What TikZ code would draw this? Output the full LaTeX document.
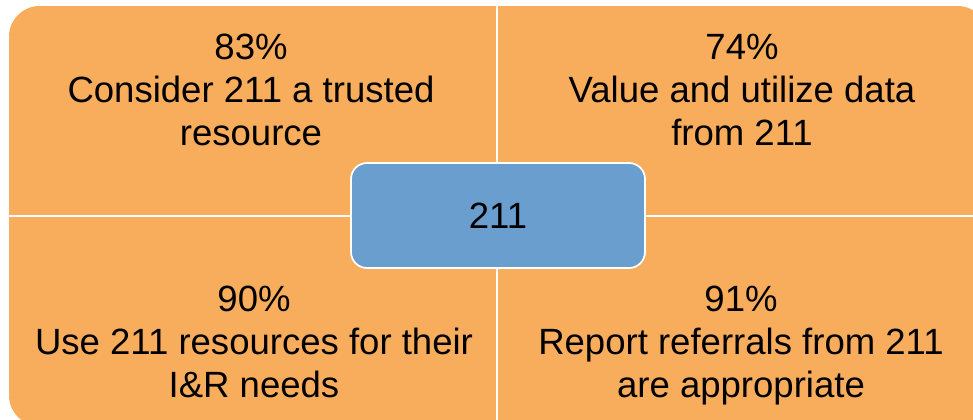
\documentclass[tikz,border=0pt]{standalone}
\usepackage{fontspec}
\setmainfont{Liberation Sans}
\definecolor{orng}{RGB}{248,173,92}
\definecolor{blu}{RGB}{106,158,207}
\begin{document}
\begin{tikzpicture}[x=0.75pt,y=-0.75pt,
  quad/.style={fill=orng, draw=white, line width=1.3pt},
  lbl/.style={align=center, font=\fontsize{27.4}{31.9}\selectfont, inner sep=0pt, anchor=base},
  hub/.style={fill=blu, draw=white, line width=1.3pt, rounded corners=12pt,
    minimum width=220.5pt, minimum height=78.75pt, inner sep=0pt,
    font=\fontsize{27.4}{31.9}\selectfont}]
\useasboundingbox (0,0) rectangle (973,419);
\begin{scope}
  \clip[rounded corners=23pt] (9,6) rectangle (988,426);
  \path[quad] (0,0) rectangle (497,216);
  \path[quad] (497,0) rectangle (1000,216);
  \path[quad] (0,216) rectangle (497,440);
  \path[quad] (497,216) rectangle (1000,440);
\end{scope}
\node[lbl] (tl) at (251,145) {83\%\\Consider 211 a trusted\\resource};
\node[lbl] (tr) at (742,145) {74\%\\Value and utilize data\\from 211};
\node[lbl] (bl) at (254,397) {90\%\\Use 211 resources for their\\I\&R needs};
\node[lbl] (br) at (741,397) {91\%\\Report referrals from 211\\are appropriate};
\node[hub] (c) at (498,215.5) {211};
\end{tikzpicture}
\end{document}
